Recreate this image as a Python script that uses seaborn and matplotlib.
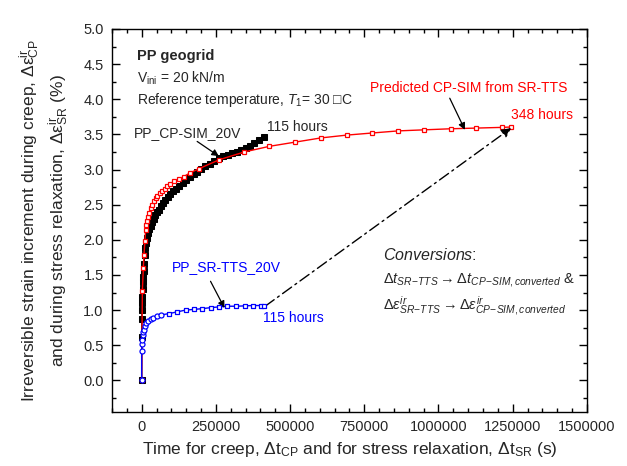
import matplotlib
matplotlib.use("Agg")
import matplotlib.pyplot as plt
from matplotlib.ticker import MultipleLocator, FormatStrFormatter, FixedLocator
import seaborn as sns
import numpy as np

# ---------------- data ----------------
cp_t = [0, 300, 600, 1000, 1500, 2000, 3000, 4000, 5000, 6500, 8000, 10000, 12500,
        15000, 18000, 22000, 26000, 30000, 35000, 40000, 46000, 52000, 58000, 65000,
        72000, 80000, 88000, 97000, 106000, 116000, 127000, 138000, 150000, 162000,
        175000, 188000, 200000, 215000, 230000, 245000, 260000, 275000, 290000,
        305000, 320000, 335000, 350000, 365000, 380000, 395000, 413000]
cp_y = [0, 0.62, 0.88, 1.00, 1.10, 1.18, 1.30, 1.40, 1.47, 1.55, 1.65, 1.78, 1.88,
        1.95, 2.02, 2.09, 2.15, 2.20, 2.25, 2.30, 2.35, 2.39, 2.43, 2.48,
        2.53, 2.57, 2.61, 2.65, 2.69, 2.73, 2.77, 2.81, 2.85, 2.89,
        2.93, 2.97, 3.01, 3.05, 3.08, 3.12, 3.16, 3.19, 3.21,
        3.23, 3.25, 3.28, 3.30, 3.34, 3.38, 3.42, 3.46]

pred_t = [0, 2300, 5700, 7800, 11000, 13400, 16000, 19000, 22000, 25000, 30000, 35000,
          41000, 47000, 53000, 61000, 70000, 78000, 86000, 97000, 109000, 125000,
          142000, 162000, 192000, 262000, 346000, 430000, 517000, 604000, 691000,
          777000, 865000, 952000, 1041000, 1128000, 1215000, 1243000]
pred_y = [0, 1.27, 1.60, 1.79, 1.98, 2.14, 2.21, 2.27, 2.33, 2.38, 2.45, 2.50,
          2.55, 2.59, 2.62, 2.66, 2.69, 2.73, 2.77, 2.80, 2.83, 2.86,
          2.90, 2.95, 3.01, 3.14, 3.25, 3.33, 3.39, 3.45, 3.49,
          3.52, 3.55, 3.565, 3.58, 3.59, 3.60, 3.605]

sr_t = [0, 0, 1000, 2200, 3400, 5600, 7800, 11000, 15700, 22400, 30000, 39000, 50000,
        64000, 92000, 120000, 148000, 176000, 204000, 232000, 260000, 288000, 319000,
        347000, 375000, 403000, 413000]
sr_y = [0, 0.42, 0.52, 0.58, 0.64, 0.69, 0.72, 0.77, 0.81, 0.84, 0.87, 0.89, 0.91,
        0.93, 0.95, 0.975, 1.00, 1.01, 1.02, 1.035, 1.045, 1.055, 1.055,
        1.06, 1.065, 1.065, 1.065]
sr_circle_n = 14  # first points drawn as circles

x_ticks = [0, 250000, 500000, 750000, 1000000, 1250000, 1500000]
y_ticks = [0.0, 0.5, 1.0, 1.5, 2.0, 2.5, 3.0, 3.5, 4.0, 4.5, 5.0]

# ---------------- style ----------------
sns.set_style("ticks")
plt.rcParams['font.family'] = ['Liberation Sans', 'DejaVu Sans']
plt.rcParams['mathtext.fontset'] = 'custom'
plt.rcParams['mathtext.rm'] = 'Liberation Sans'
plt.rcParams['mathtext.it'] = 'Liberation Sans:italic'
plt.rcParams['mathtext.bf'] = 'Liberation Sans:bold'

fig = plt.figure(figsize=(6.27, 4.66), dpi=100)
ax = fig.add_axes([0.1786, 0.1159, 0.936 - 0.1786, 0.9378 - 0.1159])

# predicted (red)
sns.lineplot(x=pred_t, y=pred_y, ax=ax, color='red', lw=1.0, sort=False,
             estimator=None, marker='s', markersize=3.3, markerfacecolor='white',
             markeredgecolor='red', markeredgewidth=0.9, zorder=3)
# CP-SIM (black)
sns.lineplot(x=cp_t, y=cp_y, ax=ax, color='black', lw=1.0, sort=False,
             estimator=None, marker='s', markersize=4.2, markerfacecolor='black',
             markeredgecolor='black', zorder=2)
# SR-TTS (blue)
sns.lineplot(x=sr_t, y=sr_y, ax=ax, color='blue', lw=1.0, sort=False,
             estimator=None, zorder=3)
sns.scatterplot(x=sr_t[:sr_circle_n], y=sr_y[:sr_circle_n], ax=ax, marker='o', s=13,
                facecolor='white', edgecolor='blue', linewidth=0.9, zorder=4)
sns.scatterplot(x=sr_t[sr_circle_n:], y=sr_y[sr_circle_n:], ax=ax, marker='s', s=11,
                facecolor='white', edgecolor='blue', linewidth=0.9, zorder=4)

ax.set_xlim(-100000, 1500000)
ax.set_ylim(-0.45, 5.0)
ax.xaxis.set_major_locator(FixedLocator(x_ticks))
ax.xaxis.set_minor_locator(MultipleLocator(50000))
ax.yaxis.set_major_locator(FixedLocator(y_ticks))
ax.yaxis.set_minor_locator(MultipleLocator(0.25))
ax.yaxis.set_major_formatter(FormatStrFormatter('%.1f'))
ax.set_xticklabels([str(v) for v in x_ticks])
ax.tick_params(which='both', direction='in', top=True, right=True, labelsize=10.5,
               width=1.0, color='black', pad=6)
ax.tick_params(which='major', length=6)
ax.tick_params(which='minor', length=3)
for s in ax.spines.values():
    s.set_linewidth(1.0)
    s.set_color('black')

ax.set_xlabel(r"Time for creep, Δt$_{\mathregular{CP}}$ and for stress relaxation, Δt$_{\mathregular{SR}}$ (s)",
              fontsize=12.5, labelpad=4)
ax.set_ylabel("Irreversible strain increment during creep, Δε$^{\\mathregular{ir}}_{\\mathregular{CP}}$\n"
              "and during stress relaxation, Δε$^{\\mathregular{ir}}_{\\mathregular{SR}}$ (%)",
              fontsize=12.5, labelpad=9, linespacing=1.25)

# annotations
ax.text(-17000, 4.62, "PP geogrid", fontsize=10.5, fontweight='bold', va='center')
ax.text(-17000, 4.30, r"V$_{\mathregular{ini}}$ = 20 kN/m", fontsize=10, va='center')
ax.text(-17000, 3.99, "Reference temperature, $\\mathit{T}_{\\mathregular{1}}$= 30 \u25a1C", fontsize=10, va='center')

ax.text(-27000, 3.52, "PP_CP-SIM_20V", fontsize=10, va='center')
ax.annotate("", xy=(260000, 3.19), xytext=(187000, 3.40),
            arrowprops=dict(arrowstyle='-|>', color='black', lw=0.9, mutation_scale=10,
                            shrinkA=0, shrinkB=0))
ax.text(422000, 3.61, "115 hours", fontsize=10, va='center')

ax.text(769000, 4.16, "Predicted CP-SIM from SR-TTS", fontsize=10, va='center',
        ha='left', color='red')
ax.annotate("", xy=(1089000, 3.565), xytext=(1038000, 4.015),
            arrowprops=dict(arrowstyle='-|>', color='black', lw=0.9, mutation_scale=10,
                            shrinkA=0, shrinkB=0))
ax.text(1246000, 3.78, "348 hours", fontsize=10, va='center', color='red')

ax.text(103000, 1.615, "PP_SR-TTS_20V", fontsize=10, va='center', color='blue')
ax.annotate("", xy=(279000, 1.03), xytext=(232000, 1.41),
            arrowprops=dict(arrowstyle='-|>', color='black', lw=0.9, mutation_scale=10,
                            shrinkA=0, shrinkB=0))
ax.text(409000, 0.89, "115 hours", fontsize=10, va='center', color='blue')

ax.annotate("", xy=(1245000, 3.59), xytext=(416000, 1.055),
            arrowprops=dict(arrowstyle='-|>', color='black', lw=1.0,
                            linestyle=(0, (8, 3, 1.5, 3)),
                            mutation_scale=14, shrinkA=0, shrinkB=0))

ax.text(814000, 1.79, "$\\mathit{Conversions}$:", fontsize=11.5, va='center')
ax.text(814000, 1.43, r"$\Delta \mathit{t}_{SR\!-\!TTS} \rightarrow \Delta \mathit{t}_{CP\!-\!SIM,converted}$ &",
        fontsize=10.5, va='center')
ax.text(814000, 1.06, r"$\Delta \varepsilon^{ir}_{SR\!-\!TTS} \rightarrow \Delta \varepsilon^{ir}_{CP\!-\!SIM,converted}$",
        fontsize=10.5, va='center')

fig.savefig("out.png", dpi=100)
